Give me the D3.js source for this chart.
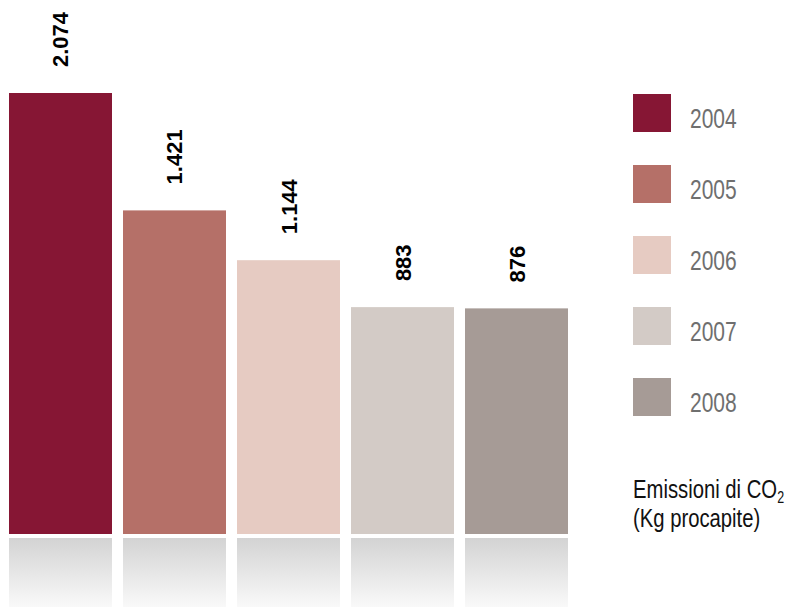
<!DOCTYPE html>
<html><head><meta charset="utf-8">
<script src="https://cdn.jsdelivr.net/npm/d3@7"></script>
<style>body{margin:0;background:#fff}svg{display:block}</style>
</head><body>
<svg id="c" width="785" height="607"></svg>
<script>
const years = ["2004","2005","2006","2007","2008"];
const values = [2074, 1421, 1144, 883, 876];
const colors = ["#861634","#b57068","#e6cbc2","#d3cbc6","#a69b96"];
const titleLines = ["Emissioni di CO", "(Kg procapite)"];

const svg = d3.select("#c");
const it = d3.formatLocale({decimal:",", thousands:".", grouping:[3], currency:["€",""]});
const fmt = it.format(",d");

const x = d3.scaleBand().domain(years).range([9, 568]).paddingInner(0.0965).paddingOuter(0);
const y = d3.scaleLinear().domain([-379, 2074]).range([534, 93]);

const defs = svg.append("defs");
const g = defs.append("linearGradient").attr("id","refl").attr("x1",0).attr("y1",0).attr("x2",0).attr("y2",1);
g.append("stop").attr("offset","0%").attr("stop-color","#d3d3d3");
g.append("stop").attr("offset","100%").attr("stop-color","#f9f9f9");

svg.selectAll("rect.bar").data(values).join("rect").attr("class","bar")
  .attr("x",(d,i)=>x(years[i])).attr("width",x.bandwidth())
  .attr("y",d=>y(d)).attr("height",d=>y.range()[0]-y(d))
  .attr("fill",(d,i)=>colors[i]);

svg.selectAll("rect.refl").data(values).join("rect").attr("class","refl")
  .attr("x",(d,i)=>x(years[i])).attr("width",x.bandwidth())
  .attr("y",538).attr("height",69).attr("fill","url(#refl)");

svg.selectAll("text.val").data(values).join("text").attr("class","val")
  .attr("transform",(d,i)=>`translate(${x(years[i])+x.bandwidth()/2+8},${y(d)-26}) rotate(-90)`)
  .attr("font-family","Liberation Sans, Arial, sans-serif").attr("font-weight","bold")
  .attr("font-size",22).attr("fill","#000").text(d=>fmt(d));

const lg = svg.append("g");
years.forEach((yr,i)=>{
  const ty = 94 + i*71;
  lg.append("rect").attr("x",633).attr("y",ty).attr("width",38).attr("height",38).attr("fill",colors[i]);
  lg.append("text").attr("transform",`translate(690,${ty+34}) scale(0.75,1)`)
    .attr("font-family","Liberation Sans, Arial, sans-serif")
    .attr("font-size",28).attr("fill","#6f6f6f").text(yr);
});
const t1 = svg.append("text").attr("transform","translate(633,498) scale(0.78,1)")
  .attr("font-family","Liberation Sans, Arial, sans-serif").attr("font-size",26).attr("fill","#111");
t1.append("tspan").text(titleLines[0]);
t1.append("tspan").attr("font-size",16).attr("dy",5).text("2");
svg.append("text").attr("transform","translate(633,527) scale(0.78,1)")
  .attr("font-family","Liberation Sans, Arial, sans-serif").attr("font-size",26).attr("fill","#111")
  .text(titleLines[1]);
</script>
</body></html>
